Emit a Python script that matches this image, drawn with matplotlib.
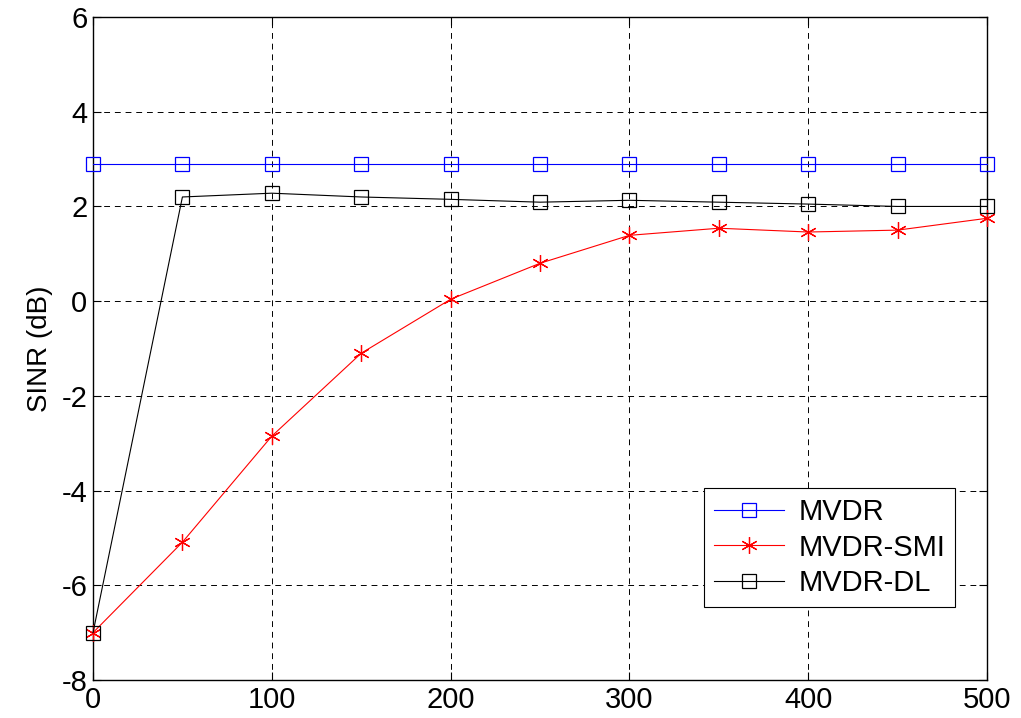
import numpy as np
import matplotlib
matplotlib.use('Agg')
import matplotlib.pyplot as plt

plt.rcParams['font.family'] = ['Liberation Sans', 'DejaVu Sans']
plt.rcParams['axes.unicode_minus'] = False

# 数据
x = [0, 50, 100, 150, 200, 250, 300, 350, 400, 450, 500]
mvdr = [2.89] * 11
mvdr_smi = [-7.0, -5.09, -2.85, -1.10, 0.04, 0.80, 1.39, 1.54, 1.46, 1.50, 1.75]
mvdr_dl = [-7.0, 2.20, 2.28, 2.20, 2.15, 2.09, 2.13, 2.09, 2.05, 2.00, 2.00]

xticks = [0, 100, 200, 300, 400, 500]
yticks = [-8, -6, -4, -2, 0, 2, 4, 6]

fig = plt.figure(figsize=(10.21, 7.18), dpi=100)
ax = fig.add_axes([0.0911, 0.0529, 0.8756, 0.9234])

ax.plot(x, mvdr, color='blue', lw=0.8, marker='s', ms=10.5, mfc='none', mec='blue', mew=0.9,
        label='MVDR', clip_on=False, zorder=3)
ax.plot(x, mvdr_smi, color='red', lw=0.8, marker=(6, 2, 0), ms=12, mec='red', mew=0.9,
        label='MVDR-SMI', clip_on=False, zorder=3)
ax.plot(x, mvdr_dl, color='black', lw=0.8, marker='s', ms=10.5, mfc='none', mec='black', mew=0.9,
        label='MVDR-DL', clip_on=False, zorder=3)

ax.set_xlim(0, 500)
ax.set_ylim(-8, 6)
ax.set_xticks(xticks)
ax.set_yticks(yticks)
ax.set_ylabel('SINR (dB)', fontsize=20, labelpad=6)
ax.grid(True, color='black', linestyle=(0, (6, 5)), lw=0.7)
ax.tick_params(direction='in', length=6, top=True, right=True, labelsize=21, width=0.8, pad=4)
for s in ax.spines.values():
    s.set_linewidth(1.0)

leg = ax.legend(loc='lower right', bbox_to_anchor=(0.981, 0.088), fontsize=21, fancybox=False,
                edgecolor='black', framealpha=1, handlelength=2.4, borderpad=0.35, labelspacing=0.25,
                handletextpad=0.5)
leg.get_frame().set_linewidth(0.8)
leg.set_zorder(5)

plt.savefig('out.png', dpi=100)
